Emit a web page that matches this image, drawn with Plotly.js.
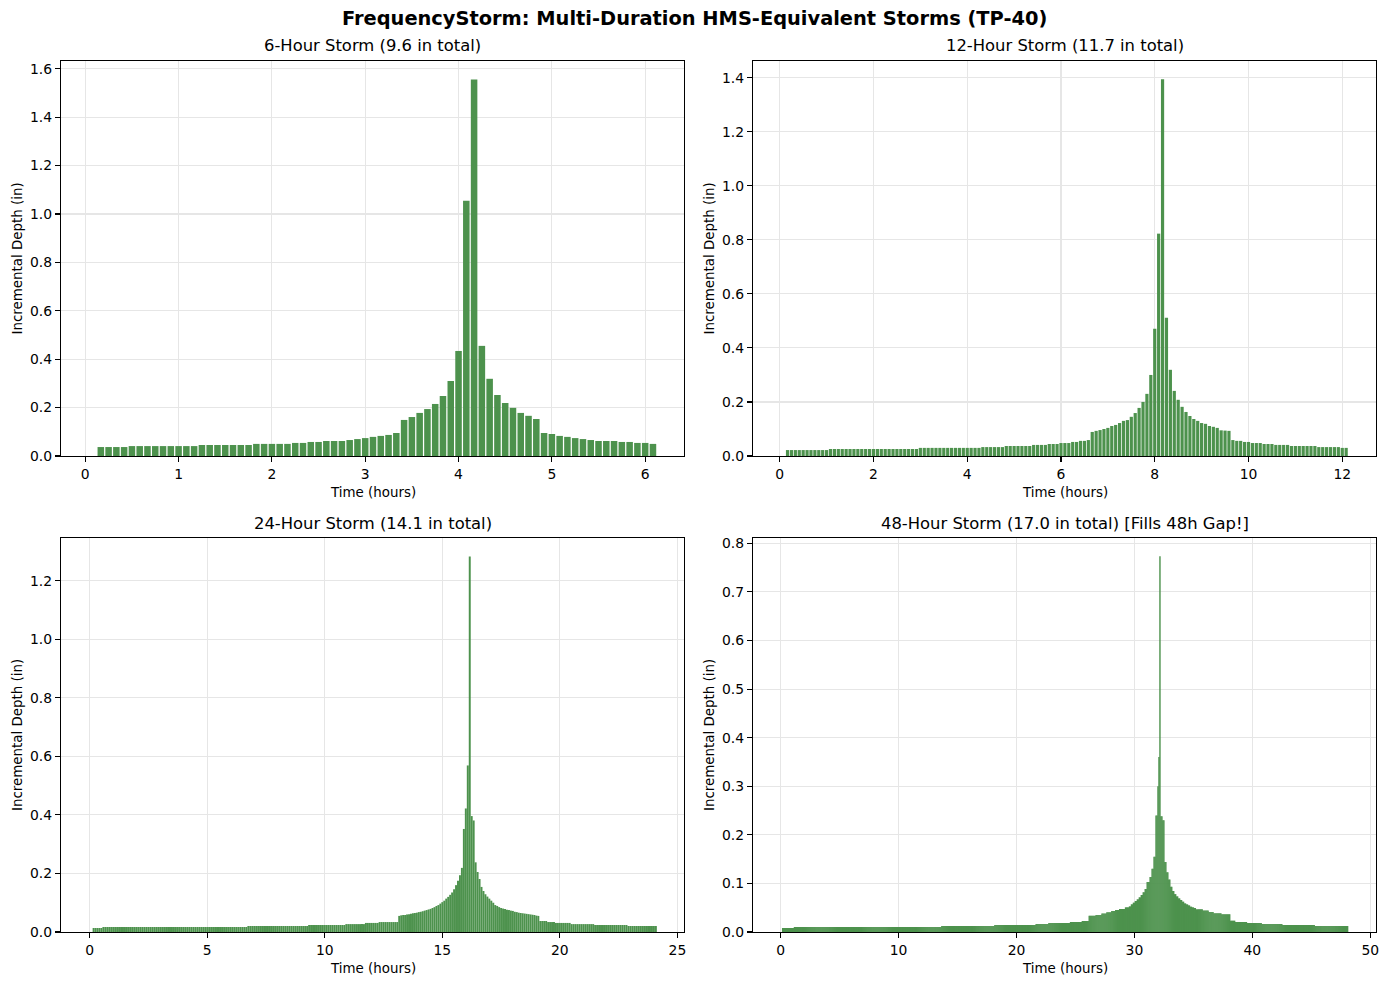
<!DOCTYPE html>
<html>
<head>
<meta charset="utf-8">
<script src="https://cdn.plot.ly/plotly-3.0.1.min.js"></script>
<style>html,body{margin:0;padding:0;background:#fff;}</style>
</head>
<body>
<div id="chart" style="width:1388px;height:985px;"></div>
<script>
// ---------------- DATA ----------------
const timeStep = 1 / 12;      // 5-minute increments, hours
const firstTime = 1 / 6;      // first plotted increment (hours)

const panelTitles = [
  "6-Hour Storm (9.6 in total)",
  "12-Hour Storm (11.7 in total)",
  "24-Hour Storm (14.1 in total)",
  "48-Hour Storm (17.0 in total) [Fills 48h Gap!]"
];
const suptitle = "FrequencyStorm: Multi-Duration HMS-Equivalent Storms (TP-40)";
const xLabel = "Time (hours)";
const yLabel = "Incremental Depth (in)";

// 6-hour storm incremental depths (72 x 5-min)
const depth6h = [
  0.037,0.037,0.037,0.037,
  0.041,0.041,0.041,0.041,0.041,0.041,0.041,0.041,0.041,
  0.0455,0.0455,0.0455,0.0455,0.0455,0.0455,0.0455,
  0.050,0.050,0.050,0.050,0.050,
  0.054,0.054,0.058,0.058,0.062,0.062,0.062,0.066,0.070,0.074,0.079,0.083,0.087,0.095,
  0.149,0.161,0.178,0.194,0.215,0.248,0.310,0.434,1.055,1.556,0.455,0.319,0.252,0.219,0.199,0.178,0.166,0.153,
  0.095,0.091,0.083,0.079,0.074,0.070,0.066,0.062,0.062,0.062,0.058,0.058,0.054,0.054,0.050
];

// 12-hour storm incremental depths (144 x 5-min)
const depth12h = [
  0.022,0.022,0.022,0.022,0.022,0.022,0.022,0.022,0.022,0.022,0.022,
  0.026,0.026,0.026,0.026,0.026,0.026,0.026,0.026,0.026,0.026,0.026,0.026,
  0.026,0.026,0.026,0.026,0.026,0.026,0.026,0.026,0.026,0.026,0.026,
  0.030,0.030,0.030,0.030,0.030,0.030,0.030,0.030,0.030,0.030,0.030,0.030,0.030,0.030,0.030,0.030,
  0.033,0.033,0.033,0.033,0.033,0.033,
  0.037,0.037,0.037,0.037,0.037,0.037,0.037,
  0.041,0.041,0.041,0.041,
  0.0445,0.0445,0.0445,
  0.048,0.048,0.048,
  0.052,0.052,0.056,0.056,0.059,
  0.089,0.093,0.096,0.100,0.104,0.111,0.115,0.122,0.130,0.133,0.145,0.159,0.178,0.200,0.230,0.300,
  0.471,0.823,1.394,0.512,0.319,0.241,0.208,0.182,0.163,0.148,0.137,0.130,0.122,0.119,0.111,0.108,0.104,
  0.095,0.094,0.093,
  0.059,0.056,0.056,0.052,0.052,0.048,0.048,0.048,0.0445,0.0445,0.0445,
  0.041,0.041,0.041,0.041,
  0.037,0.037,0.037,0.037,0.037,0.037,0.037,
  0.033,0.033,0.033,0.033,0.033,0.033,
  0.030,0.030
];

// 24-hour storm (288 x 5-min) as [depth, number of consecutive increments]
const depth24hRuns = [
  [0.0137,5],[0.0171,74],[0.0205,31],[0.024,19],[0.027,10],[0.031,7],[0.034,10],
  [0.055,1],[0.057,1],[0.058,2],[0.060,1],[0.061,1],[0.062,1],[0.064,1],[0.065,1],[0.066,1],
  [0.068,1],[0.069,1],[0.071,1],[0.073,1],[0.075,1],[0.077,1],[0.079,1],[0.082,1],[0.085,1],
  [0.089,1],[0.092,1],[0.097,1],[0.102,1],[0.107,1],[0.114,1],[0.120,1],[0.127,1],[0.135,1],
  [0.146,1],[0.160,1],[0.175,1],[0.194,1],[0.219,1],
  [0.352,1],[0.422,1],[0.569,1],[1.283,1],[0.396,1],[0.381,1],[0.238,1],[0.205,1],[0.181,1],
  [0.154,1],[0.140,1],[0.129,1],[0.121,1],[0.114,1],[0.107,1],[0.100,1],[0.092,1],[0.089,1],
  [0.085,1],[0.082,1],[0.080,1],[0.079,1],[0.076,1],[0.075,1],[0.073,1],[0.072,1],[0.069,1],
  [0.068,1],[0.066,1],[0.065,1],[0.064,1],[0.063,1],[0.062,1],[0.061,1],[0.060,1],[0.059,1],
  [0.058,1],[0.056,1],[0.055,1],
  [0.0376,4],[0.034,4],[0.031,8],[0.027,12],[0.024,17],[0.0205,15]
];

// 48-hour storm (576 x 5-min) as [depth, number of consecutive increments]
const depth48hRuns = [
  [0.0082,12],[0.0103,150],[0.0124,54],[0.0144,42],[0.0165,13],[0.0185,22],[0.0206,12],[0.0226,7],
  [0.0336,7],[0.035,6],[0.038,5],[0.0405,5],[0.0432,4],[0.0453,4],[0.0474,6],[0.0508,4],
  [0.0528,2],[0.057,2],[0.0604,2],[0.0638,2],[0.0673,2],[0.0714,2],[0.0762,2],[0.0817,2],[0.0885,2],
  [0.103,3],[0.113,2],[0.130,2],[0.155,2],[0.240,2],[0.300,1],[0.360,1],
  [0.7735,1],
  [0.238,2],[0.230,2],[0.144,2],[0.123,2],[0.108,2],[0.093,2],[0.0844,2],[0.078,2],[0.0734,2],
  [0.0693,2],[0.0659,2],[0.0625,2],[0.059,2],[0.057,2],[0.0549,2],[0.0522,2],[0.0508,2],[0.0494,2],
  [0.0467,7],[0.044,6],[0.041,5],[0.0384,8],[0.0364,9],
  [0.0233,5],[0.0206,12],[0.0185,15],[0.0165,21],[0.0144,33],[0.0124,34]
];

// ---------------- BUILD ----------------
function expandRuns(runs) {
  const out = [];
  runs.forEach(([v, n]) => { for (let i = 0; i < n; i++) out.push(v); });
  return out;
}
const depth24h = expandRuns(depth24hRuns);
const depth48h = expandRuns(depth48hRuns);

const lens = [depth6h.length, depth12h.length, depth24h.length, depth48h.length];
if (lens.join(",") !== "72,144,288,576") throw new Error("length mismatch " + lens.join(","));

const times = n => Array.from({length: n}, (_, i) => firstTime + i * timeStep);

const barColor = "#4d924d";
const FONT = "DejaVu Sans, Liberation Sans, sans-serif";

const series = [depth6h, depth12h, depth24h, depth48h];
const widthFrac = [0.84, 0.82, 1.0, 1.45];
const traces = series.map((d, i) => ({
  type: "bar",
  x: times(d.length),
  y: d,
  width: timeStep * widthFrac[i],
  marker: {color: barColor, line: {width: 0}},
  xaxis: i === 0 ? "x" : "x" + (i + 1),
  yaxis: i === 0 ? "y" : "y" + (i + 1),
  hoverinfo: "x+y"
}));

const W = 1388, H = 985;
const colX = [[61, 684], [753, 1376]];
const rowY = [[61, 456], [538, 932]];
const xd = c => [colX[c][0] / W, colX[c][1] / W];
const yd = r => [1 - rowY[r][1] / H, 1 - rowY[r][0] / H];

const axBase = {
  showline: true, mirror: true, linecolor: "#000", linewidth: 1.1,
  ticks: "outside", ticklen: 5, tickwidth: 1.1, tickcolor: "#000",
  showgrid: true, gridcolor: "#e6e6e6", gridwidth: 1.1,
  zeroline: false, fixedrange: true,
  tickfont: {family: FONT, size: 13.9, color: "#000"}
};

const xRanges = [[-0.26, 6.416], [-0.57, 12.72], [-1.22, 25.28], [-2.35, 50.49]];
const xDtick = [1, 2, 5, 10];
const yRanges = [[0, 1.632], [0, 1.462], [0, 1.346], [0, 0.811]];
const yDtick = [0.2, 0.2, 0.2, 0.1];

const layout = {
  width: W, height: H,
  margin: {l: 0, r: 0, t: 0, b: 0, pad: 0},
  paper_bgcolor: "#fff", plot_bgcolor: "#fff",
  showlegend: false,
  font: {family: FONT, color: "#000"},
  annotations: []
};

for (let i = 0; i < 4; i++) {
  const c = i % 2, r = Math.floor(i / 2);
  const sx = i === 0 ? "" : String(i + 1);
  layout["xaxis" + sx] = Object.assign({}, axBase, {
    domain: xd(c), range: xRanges[i], tick0: 0, dtick: xDtick[i],
    anchor: "y" + sx
  });
  layout["yaxis" + sx] = Object.assign({}, axBase, {
    domain: yd(r), range: yRanges[i], tick0: 0, dtick: yDtick[i],
    tickformat: ".1f", anchor: "x" + sx
  });
  const cx = (colX[c][0] + colX[c][1]) / 2 / W;
  layout.annotations.push({
    text: panelTitles[i], xref: "paper", yref: "paper",
    x: cx, y: 1 - (rowY[r][0] - 15) / H, xanchor: "center", yanchor: "middle",
    showarrow: false, font: {family: FONT, size: 16.4, color: "#000"}
  });
  layout.annotations.push({
    text: xLabel, xref: "paper", yref: "paper",
    x: cx, y: 1 - (rowY[r][1] + 36) / H, xanchor: "center", yanchor: "middle",
    showarrow: false, font: {family: FONT, size: 13.4, color: "#000"}
  });
  layout.annotations.push({
    text: yLabel, xref: "paper", yref: "paper", textangle: -90,
    x: (colX[c][0] - 44) / W, y: 1 - (rowY[r][0] + rowY[r][1]) / 2 / H,
    xanchor: "center", yanchor: "middle",
    showarrow: false, font: {family: FONT, size: 13.4, color: "#000"}
  });
}
layout.annotations.push({
  text: "<b>" + suptitle + "</b>", xref: "paper", yref: "paper",
  x: 694 / W, y: 1 - 18 / H, xanchor: "center", yanchor: "middle",
  showarrow: false, font: {family: FONT, size: 19.4, color: "#000"}
});

Plotly.newPlot("chart", traces, layout, {displayModeBar: false, staticPlot: true});
</script>
</body>
</html>
